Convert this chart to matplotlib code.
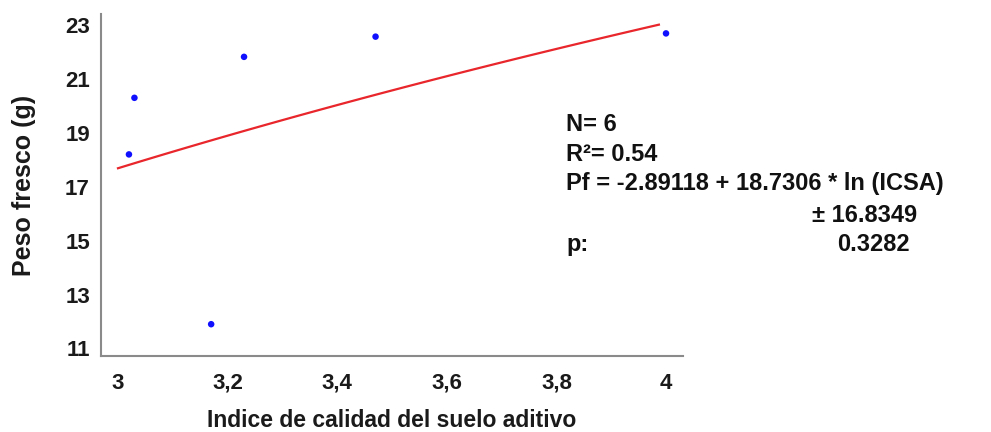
import numpy as np
import matplotlib.pyplot as plt

# data
ICSA = [3.02, 3.03, 3.17, 3.23, 3.47, 4.00]
PESO_FRESCO = [18.20, 20.30, 11.90, 21.82, 22.57, 22.69]

# fitted model Pf = a + b * ln(ICSA)
FIT_A = -2.89118
FIT_B = 18.7306
FIT_RANGE = (3.0, 3.987)

X_TICKS = [3.0, 3.2, 3.4, 3.6, 3.8, 4.0]
X_TICK_LABELS = ["3", "3,2", "3,4", "3,6", "3,8", "4"]
Y_TICKS = [11, 13, 15, 17, 19, 21, 23]

STATS_LINES = [
    ("N= 6", 566, 131),
    ("R\u00b2= 0.54", 566, 161),
    ("Pf = -2.89118 + 18.7306 * ln (ICSA)", 566, 190),
    ("\u00b1 16.8349", 812, 222),
    ("p:", 566, 251),
    ("0.3282", 837, 251),
]

W, H = 991, 432
FONT = "Liberation Sans"


def main():
    plt.rcParams["font.family"] = [FONT, "DejaVu Sans"]
    fig = plt.figure(figsize=(W / 100, H / 100), dpi=100)
    ax = fig.add_axes([101 / W, 1 - 356 / H, (683 - 101) / W, (356 - 14) / H])

    xs = np.linspace(FIT_RANGE[0], FIT_RANGE[1], 100)
    ax.plot(xs, FIT_A + FIT_B * np.log(xs), color="#e8262b", lw=1.6, zorder=2)
    ax.scatter(ICSA, PESO_FRESCO, s=22, color="#1010ff", edgecolors="none", zorder=3)

    ax.set_xlim(2.969, 4.031)
    ax.set_ylim(10.72, 23.41)
    ax.set_xticks(X_TICKS)
    ax.set_xticklabels(X_TICK_LABELS)
    ax.set_yticks(Y_TICKS)
    ax.tick_params(length=0, labelsize=16, colors="#1a1a1a")
    ax.tick_params(axis="x", pad=12)
    ax.tick_params(axis="y", pad=8)
    for lab in ax.get_xticklabels() + ax.get_yticklabels():
        lab.set_fontweight("bold")

    for side in ("top", "right"):
        ax.spines[side].set_visible(False)
    for side in ("left", "bottom"):
        ax.spines[side].set_color("#8a8a8a")
        ax.spines[side].set_linewidth(1.5)

    ax.set_xlabel("Indice de calidad del suelo aditivo", fontsize=16.5,
                  fontweight="bold", color="#1a1a1a", labelpad=11)
    ax.set_ylabel("Peso fresco (g)", fontsize=18, fontweight="bold",
                  color="#1a1a1a", labelpad=21)

    for text, px, py in STATS_LINES:
        fig.text(px / W, 1 - py / H, text, fontsize=17, fontweight="bold",
                 color="#111111", va="baseline", ha="left")

    fig.savefig("out.png", dpi=100)


if __name__ == "__main__":
    main()
